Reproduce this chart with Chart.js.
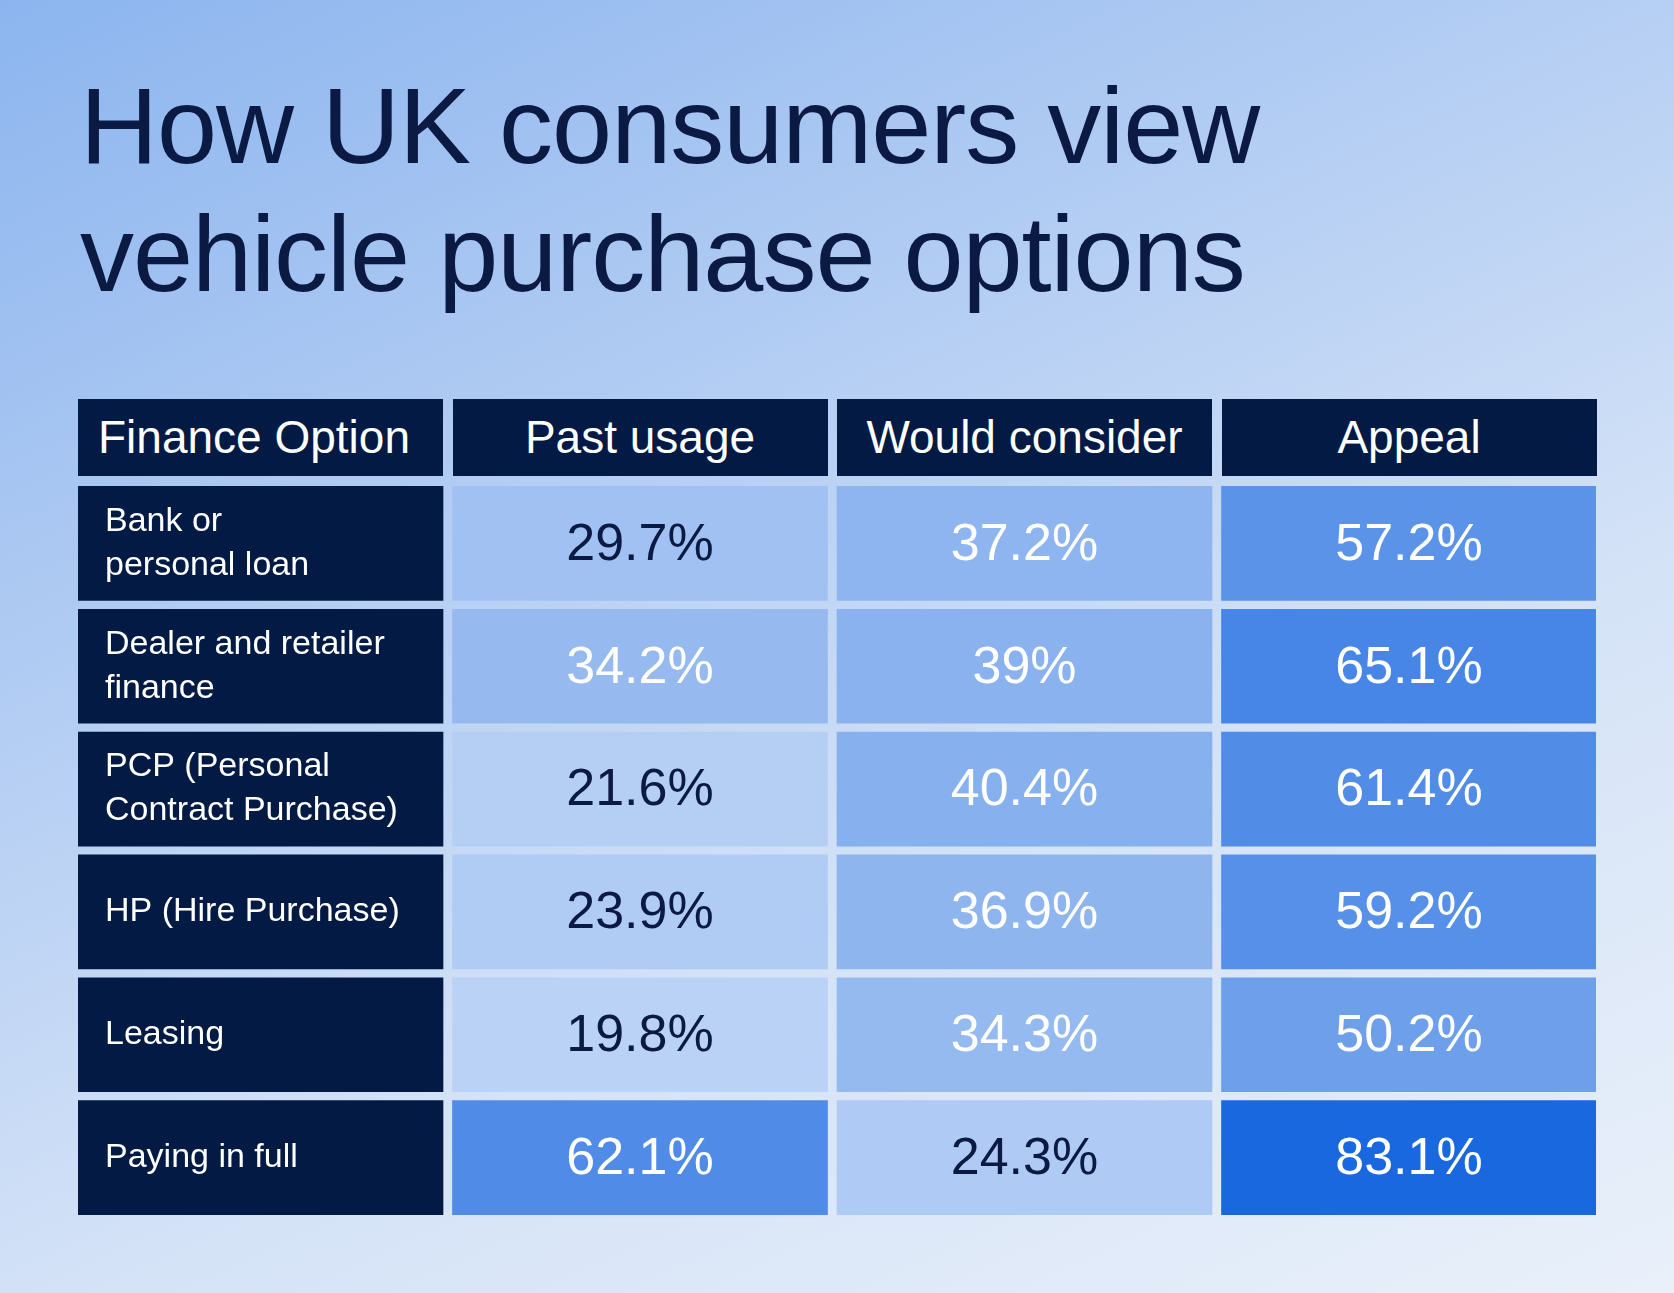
<!DOCTYPE html>
<html>
<head>
<meta charset="utf-8">
<script src="https://cdn.jsdelivr.net/npm/chart.js@4"></script>
<style>
  html, body { margin: 0; padding: 0; }
  body {
    width: 1674px; height: 1293px; overflow: hidden; position: relative;
    font-family: "Liberation Sans", Arial, sans-serif;
    background: linear-gradient(155deg, #8cb5ef 0%, #b3cdf3 35%, #d5e3f7 65%, #e9f0fa 100%);
  }
  h1 {
    position: absolute; left: 80px; top: 62px; margin: 0;
    font-weight: 400; font-size: 108px; line-height: 128px; color: #0b1a42;
    letter-spacing: -1px;
  }
  .hdr {
    position: absolute; top: 399px; height: 77px; background: #031a45; color: #fff;
    font-size: 46px; line-height: 77px; text-align: center;
  }
  #wrap { position: absolute; left: 78px; top: 482px; }
</style>
</head>
<body>
<h1>How UK consumers view<br>vehicle purchase options</h1>
<div id="headers"></div>
<div id="wrap"><canvas id="tabela" width="1518" height="737"></canvas></div>
<script>
// dados
const colunas = ["Finance Option", "Past usage", "Would consider", "Appeal"];
const opcoes = [
  ["Bank or", "personal loan"],
  ["Dealer and retailer", "finance"],
  ["PCP (Personal", "Contract Purchase)"],
  ["HP (Hire Purchase)"],
  ["Leasing"],
  ["Paying in full"]
];
const pastUsage = [29.7, 34.2, 21.6, 23.9, 19.8, 62.1];
const wouldConsider = [37.2, 39, 40.4, 36.9, 34.3, 24.3];
const appeal = [57.2, 65.1, 61.4, 59.2, 50.2, 83.1];
const valores = [pastUsage, wouldConsider, appeal];

// layout das colunas (px)
const larguras = [365, 375, 375, 375];
const gap = 9.5;
let bordas = [];
let x = 0;
larguras.forEach(w => { bordas.push([x, x + w]); x += w + gap; });

// cabeçalho
let h = document.getElementById("headers");
colunas.forEach((c, i) => {
  let d = document.createElement("div");
  d.className = "hdr";
  d.style.left = (78 + bordas[i][0]) + "px";
  d.style.width = larguras[i] + "px";
  d.textContent = c;
  if (i == 0) { d.style.textAlign = "left"; d.style.paddingLeft = "20px"; d.style.width = (larguras[i] - 20) + "px"; }
  h.appendChild(d);
});

// cor pelo valor
const vmin = 19.8, vmax = 83.1;
function cor(v) {
  let t = (v - vmin) / (vmax - vmin);
  let a = [186, 210, 245], b = [26, 104, 224];
  let c = a.map((k, i) => Math.round(k + (b[i] - k) * t));
  return `rgb(${c[0]},${c[1]},${c[2]})`;
}

let datasets = [{
  data: opcoes.map(() => bordas[0]),
  backgroundColor: "#031a45",
  barThickness: 114
}];
valores.forEach((serie, i) => {
  datasets.push({
    data: serie.map(() => bordas[i + 1]),
    backgroundColor: serie.map(cor),
    barThickness: 114
  });
});

const textos = {
  id: "textos",
  afterDatasetsDraw(chart) {
    let ctx = chart.ctx;
    ctx.save();
    ctx.textBaseline = "middle";
    chart.getDatasetMeta(0).data.forEach((bar, r) => {
      ctx.fillStyle = "#fff";
      ctx.font = "34px 'Liberation Sans', Arial, sans-serif";
      ctx.textAlign = "left";
      let linhas = opcoes[r];
      linhas.forEach((l, k) => {
        let y = bar.y + (k - (linhas.length - 1) / 2) * 44;
        ctx.fillText(l, bar.base + 27, y);
      });
    });
    valores.forEach((serie, i) => {
      chart.getDatasetMeta(i + 1).data.forEach((bar, r) => {
        let v = serie[r];
        ctx.fillStyle = v > 32 ? "#ffffff" : "#0b1a42";
        ctx.font = "52px 'Liberation Sans', Arial, sans-serif";
        ctx.textAlign = "center";
        ctx.fillText(v + "%", (bar.x + bar.base) / 2, bar.y + 2);
      });
    });
    ctx.restore();
  }
};

new Chart(document.getElementById("tabela"), {
  type: "bar",
  data: { labels: opcoes.map(o => o.join(" ")), datasets: datasets },
  options: {
    indexAxis: "y",
    responsive: false,
    animation: false,
    devicePixelRatio: 1,
    layout: { padding: 0 },
    plugins: { legend: { display: false }, tooltip: { enabled: false } },
    scales: {
      x: { type: "linear", min: 0, max: 1518, display: false },
      y: { display: false, stacked: false }
    },
    datasets: { bar: { grouped: false } }
  },
  plugins: [textos]
});
</script>
</body>
</html>
